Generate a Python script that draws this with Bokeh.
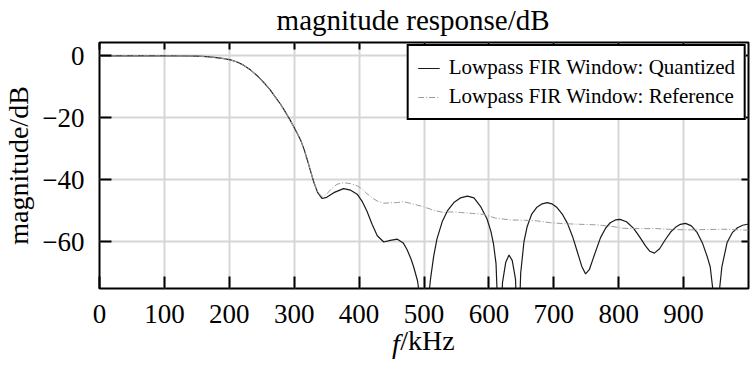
from bokeh.plotting import figure
from bokeh.models import (LinearAxis, FixedTicker, Range1d, Legend, LegendItem,
                          CustomJSTickFormatter, ColumnDataSource)
from bokeh.embed import file_html
from bokeh.resources import INLINE

# ---------------- data ----------------
freq_q = [0, 50, 100, 130, 150, 165, 180, 192, 202, 212,
          222, 233, 244, 254, 263, 271, 279, 287, 294, 302,
          310, 315, 320, 325, 330, 336, 343, 350, 361, 376,
          387, 397, 405, 412, 420, 428, 438, 448, 459, 468,
          474, 480, 484, 490, 495, 500, 505, 510, 515, 520,
          528, 536, 546, 556, 567, 577, 587, 597, 603, 607,
          611, 616, 621, 626, 631, 636, 641, 645, 649, 654,
          659, 666, 674, 682, 690, 697, 705, 713, 721, 729,
          736, 743, 749, 755, 762, 772, 780, 787, 795, 802,
          812, 823, 832, 841, 848, 855, 863, 872, 880, 888,
          895, 903, 912, 921, 929, 936, 941, 946, 950, 954,
          959, 967, 975, 983, 991, 1000]
mag_q = [0, 0, 0, -0.05, -0.1, -0.25, -0.55, -0.9, -1.3, -2.0,
         -3.0, -4.6, -6.6, -8.8, -11.0, -13.3, -15.6, -18.3, -20.8, -23.9,
         -27.2, -30.0, -33.4, -37.0, -40.6, -44.0, -46.0, -45.6, -44.1, -42.8,
         -43.3, -44.6, -47.0, -50.0, -54.3, -58.0, -60.0, -59.5, -59.1, -60.3,
         -62.5, -65.5, -68.0, -72.5, -80.0, -100.0, -82.0, -72.0, -64.5, -59.0,
         -53.5, -50.0, -47.3, -45.8, -45.2, -45.8, -48.5, -52.5, -56.5, -60.5,
         -67.0, -95.0, -73.0, -66.5, -64.2, -66.0, -72.0, -95.0, -70.0, -60.0,
         -55.0, -51.0, -48.8, -47.7, -47.3, -47.7, -48.9, -51.0, -54.0, -58.3,
         -63.0, -67.8, -70.3, -68.8, -64.5, -58.6, -55.5, -53.8, -52.9, -52.7,
         -53.5, -55.6, -58.3, -61.2, -63.0, -63.6, -62.2, -59.2, -56.8, -55.2,
         -54.3, -54.0, -54.8, -57.0, -60.3, -64.5, -68.0, -77.0, -100.0, -78.0,
         -68.0, -60.2, -57.0, -55.4, -54.6, -54.2]

freq_r = [0, 50, 100, 130, 150, 165, 180, 192, 202, 212,
          222, 233, 244, 254, 263, 271, 279, 287, 294, 302,
          310, 315, 320, 325, 330, 336, 343, 350, 358, 366,
          376, 387, 397, 405, 412, 420, 428, 438, 448, 459,
          468, 474, 484, 500, 515, 530, 541, 556, 575, 592,
          610, 633, 655, 674, 695, 715, 740, 767, 790, 808,
          835, 859, 885, 911, 935, 962, 985, 1000]
mag_r = [0, 0, 0, -0.05, -0.1, -0.25, -0.55, -0.9, -1.3, -2.0,
         -3.0, -4.6, -6.6, -8.8, -11.0, -13.3, -15.6, -18.3, -20.8, -23.9,
         -27.2, -30.0, -33.4, -37.0, -40.5, -43.8, -45.5, -44.6, -42.7, -41.4,
         -40.9, -41.2, -41.9, -43.0, -44.4, -45.8, -46.8, -47.5, -47.4, -47.3,
         -47.0, -47.3, -47.8, -48.7, -49.8, -50.5, -50.3, -50.5, -50.8, -51.1,
         -52.3, -52.9, -53.0, -53.2, -53.8, -54.1, -54.3, -54.5, -55.0, -55.6,
         -55.7, -55.7, -56.0, -56.1, -56.0, -55.9, -56.1, -56.2]

series_names = ["Lowpass FIR Window: Quantized", "Lowpass FIR Window: Reference"]
x_ticks = [0, 100, 200, 300, 400, 500, 600, 700, 800, 900]
x_tick_labels = ["0", "100", "200", "300", "400", "500", "600", "700", "800", "900"]
y_ticks = [0, -20, -40, -60]
y_tick_labels = ["0", "\u221220", "\u221240", "\u221260"]
x_limits = (0, 1000)
y_limits = (-75, 4.3)
title_text = "magnitude response/dB"
ylabel_text = "magnitude/dB"
xlabel_var = "f"
xlabel_unit = "/kHz"

FONT = "Liberation Serif"
NBSP = "\u00a0"

p = figure(width=753, height=367, x_range=Range1d(*x_limits), y_range=Range1d(*y_limits),
           output_backend="svg", toolbar_location=None,
           min_border_left=99, min_border_right=5, min_border_top=42, min_border_bottom=79)
p.background_fill_color = "white"
p.border_fill_color = "white"
p.outline_line_color = "black"
p.outline_line_width = 2
p.outline_line_alpha = 1
p.title.visible = False

# grids
p.xgrid.ticker = FixedTicker(ticks=x_ticks)
p.ygrid.ticker = FixedTicker(ticks=y_ticks)
for g in (p.xgrid[0], p.ygrid[0]):
    g.grid_line_color = "#d6d6d6"
    g.grid_line_width = 2

def style_axis(ax, tick_len):
    ax.major_tick_in = tick_len
    ax.major_tick_out = 0
    ax.minor_tick_line_color = None
    ax.axis_line_color = None
    ax.major_tick_line_color = "black"
    ax.major_tick_line_width = 2
    ax.major_label_text_font = FONT
    ax.major_label_text_font_size = "27px"
    ax.major_label_text_color = "black"

def label_axis(text, size, style, standoff):
    """An axis with no ticks that only carries a text label."""
    ax = LinearAxis(ticker=FixedTicker(ticks=[]))
    ax.major_tick_in = 0
    ax.major_tick_out = 0
    ax.minor_tick_line_color = None
    ax.axis_line_color = None
    ax.major_label_standoff = 0
    ax.axis_label = text
    ax.axis_label_text_font = FONT
    ax.axis_label_text_font_size = size
    ax.axis_label_text_font_style = style
    ax.axis_label_text_color = "black"
    ax.axis_label_standoff = standoff
    return ax

# bottom axis: ticks + numbers + "/kHz"
xa = p.xaxis[0]
xa.ticker = FixedTicker(ticks=x_ticks)
xa.major_label_overrides = dict(zip(x_ticks, x_tick_labels))
style_axis(xa, 12)
xa.major_label_standoff = 16
xa.axis_label = NBSP + xlabel_unit
xa.axis_label_text_font = FONT
xa.axis_label_text_font_size = "28px"
xa.axis_label_text_font_style = "normal"
xa.axis_label_text_color = "black"
xa.axis_label_standoff = -1
# italic "f" on the same text line, just left of "/kHz"
p.add_layout(label_axis(xlabel_var + NBSP * 8, "28px", "italic", -31), "below")

# left axis
ya = p.yaxis[0]
ya.ticker = FixedTicker(ticks=y_ticks)
ya.major_label_overrides = dict(zip(y_ticks, y_tick_labels))
style_axis(ya, 12)
ya.major_label_standoff = 15
ya.axis_label = ylabel_text
ya.axis_label_text_font = FONT
ya.axis_label_text_font_size = "28px"
ya.axis_label_text_font_style = "normal"
ya.axis_label_text_color = "black"
ya.axis_label_standoff = 5

# top / right tick-only axes
blank = CustomJSTickFormatter(code="return ''")
top = LinearAxis(ticker=FixedTicker(ticks=x_ticks), formatter=blank)
style_axis(top, 7)
top.major_label_standoff = 0
p.add_layout(top, "above")
right = LinearAxis(ticker=FixedTicker(ticks=y_ticks), formatter=blank)
style_axis(right, 7)
right.major_label_standoff = 0
p.add_layout(right, "right")

# title carried by a label-only axis above the plot
p.add_layout(label_axis(title_text + NBSP * 3, "29px", "normal", 7), "above")

src_q = ColumnDataSource(dict(x=freq_q, y=mag_q))
src_r = ColumnDataSource(dict(x=freq_r, y=mag_r))
rq = p.line("x", "y", source=src_q, line_color="#1a1a1a", line_width=1.2)
rr = p.line("x", "y", source=src_r, line_color="#9a9a9a", line_width=1.0, line_dash="6 2 1 2")

legend = Legend(items=[LegendItem(label=series_names[0], renderers=[rq]),
                       LegendItem(label=series_names[1], renderers=[rr])],
                location="top_right", margin=2, padding=9, spacing=4,
                glyph_width=22, glyph_height=20, label_standoff=9,
                label_text_font=FONT, label_text_font_size="21px",
                label_text_color="black",
                border_line_color="black", border_line_width=2, border_line_alpha=1,
                background_fill_color="white", background_fill_alpha=1)
p.add_layout(legend)

open("out.html", "w").write(file_html(p, INLINE))
